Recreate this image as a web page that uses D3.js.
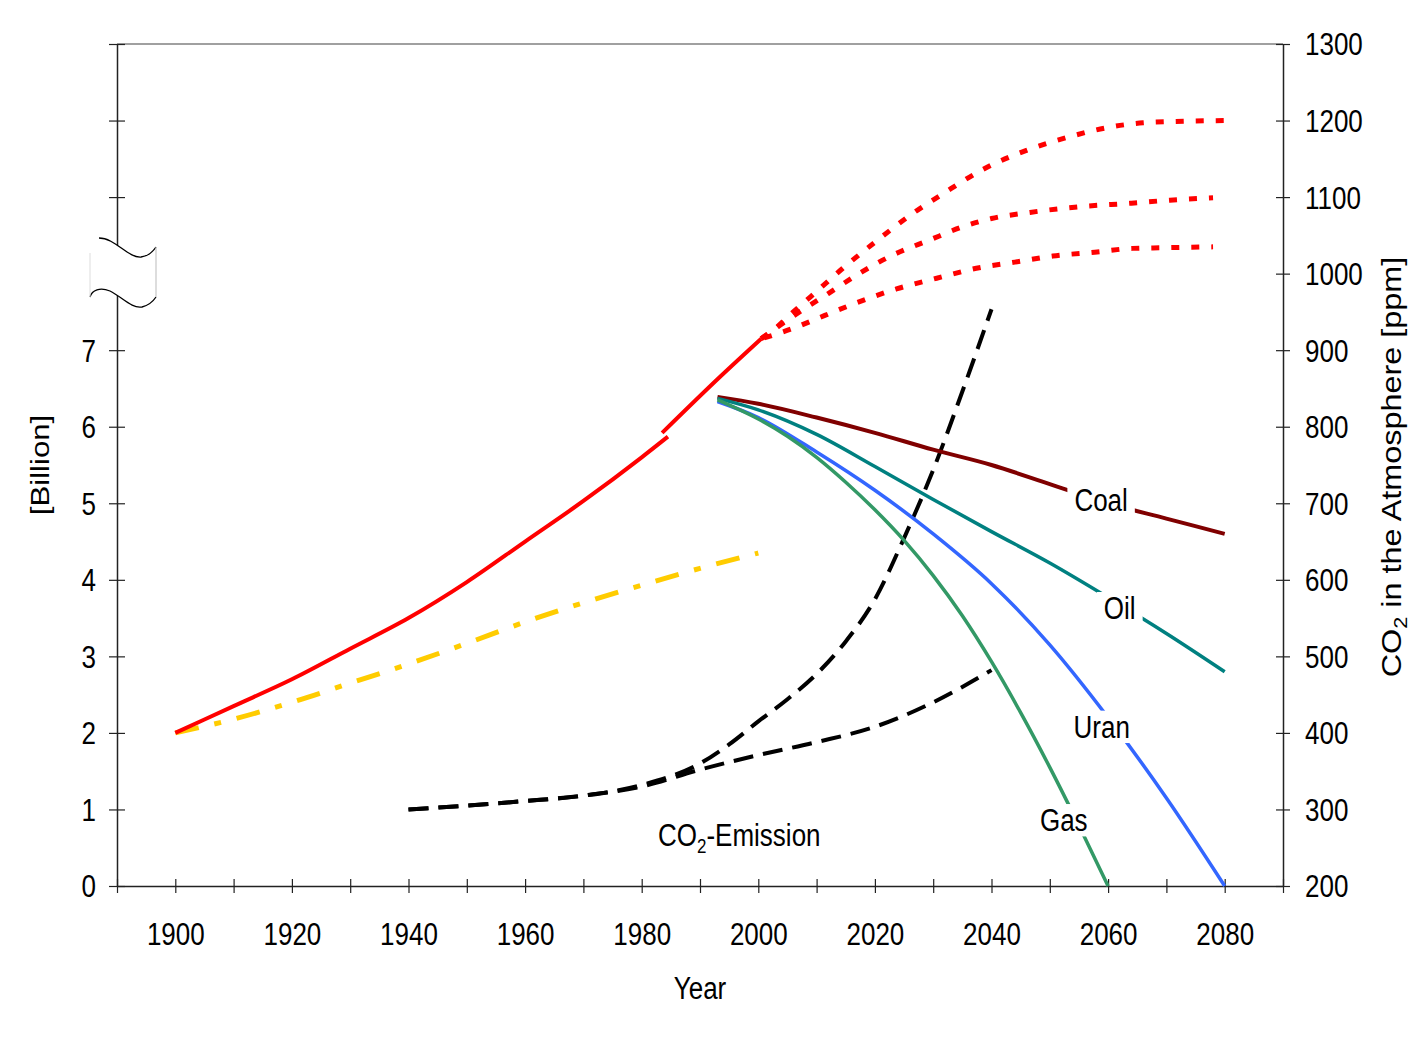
<!DOCTYPE html>
<html>
<head>
<meta charset="utf-8">
<script src="https://cdn.jsdelivr.net/npm/d3@7"></script>
<style>
  body { margin: 0; background: #fff; }
  svg { display: block; font-family: "Liberation Sans", Arial, sans-serif; }
</style>
</head>
<body>
<div id="chart"></div>
<script>
// --- data ---
// world population [Billion], solid red (two pieces, the second slightly offset)
const popPart1 = [[1900,2.0],[1910,2.35],[1920,2.7],[1930,3.1],[1940,3.5],[1950,3.97],[1960,4.5],[1970,5.03],[1980,5.6],[1984.5,5.87]];
const popPart2 = [[1983.5,5.92],[1993.4,6.65],[2000.5,7.15]];
// dash-dot yellow line [Billion]
const yellowLine = [[1900,2.0],[1910,2.18],[1920,2.4],[1930,2.65],[1940,2.9],[1950,3.17],[1960,3.45],[1970,3.7],[1980,3.93],[1990,4.15],[2000,4.35]];
// CO2 in the atmosphere [ppm], three dotted scenarios
const co2High = [[2000.5,915],[2003,929],[2006,950],[2009,970],[2014.5,1007],[2020,1041],[2026,1076],[2032,1106],[2039,1138],[2046,1161],[2053,1178],[2060,1191],[2066,1197],[2073,1199],[2080,1200]];
const co2Mid = [[2000.5,915],[2005.7,943],[2012,974],[2017.7,1002],[2023,1024],[2029.4,1044],[2035,1061],[2040,1072],[2046.6,1080],[2056,1088],[2064,1092],[2070.6,1096],[2078,1099]];
const co2Low = [[2001,916],[2006.8,931],[2010,941],[2016.9,962],[2023.7,980],[2030.6,994],[2037.4,1007],[2044,1015],[2050.5,1023],[2057.7,1028],[2064.2,1033],[2070.9,1034],[2078,1035]];
// CO2 emission, two dashed projections [Billion]
const emissionLow = [[1940,1.0],[1950,1.05],[1960,1.11],[1970,1.18],[1980,1.3],[1990,1.52],[2000,1.71],[2010,1.88],[2020,2.08],[2030,2.4],[2040,2.82]];
const emissionHigh = [[1940,1.0],[1950,1.05],[1960,1.11],[1970,1.18],[1980,1.32],[1990,1.6],[1995,1.85],[2000,2.15],[2005,2.44],[2010,2.77],[2015,3.195],[2020,3.745],[2025,4.545],[2030,5.435],[2035,6.46],[2040,7.535]];
// resources [Billion]
const coal = [[1993,6.39],[2000,6.3],[2010,6.12],[2020,5.92],[2030,5.7],[2040,5.5],[2050,5.25],[2060,5.0],[2070,4.8],[2080,4.6]];
const oil = [[1993,6.37],[2000,6.22],[2010,5.9],[2020,5.48],[2030,5.05],[2040,4.63],[2050,4.22],[2060,3.77],[2070,3.3],[2080,2.8]];
const uran = [[1993,6.33],[2000,6.12],[2010,5.67],[2020,5.17],[2030,4.6],[2040,3.95],[2050,3.15],[2060,2.2],[2070,1.15],[2080,0.0]];
const gas = [[1993,6.35],[2000,6.1],[2005,5.875],[2010,5.6],[2015,5.275],[2020,4.915],[2025,4.515],[2030,4.055],[2035,3.53],[2040,2.93],[2045,2.265],[2050,1.55],[2055,0.79],[2060,0.0]];

// tick values
const yearTicks = d3.range(1890, 2091, 10);
const yearLabels = d3.range(1900, 2081, 20);
const billionTicks = [0,1,2,3,4,5,6,7,9,10,11];
const billionLabels = [0,1,2,3,4,5,6,7];
const ppmTicks = d3.range(200, 1301, 100);

// label positions: [text, year, billion]
const curveLabels = [["Coal",2058.8,5.04],["Oil",2062,3.63],["Uran",2058.9,2.08],["Gas",2052.4,0.86]];

// --- drawing ---
const W = 1416, H = 1046;
const margin = { top: 44, right: 133, bottom: 160, left: 117 };
const FS = 26, SY = 1.2;   // text is stretched vertically in the original

const svg = d3.select("#chart").append("svg")
  .attr("width", W).attr("height", H);

const x = d3.scaleLinear().domain([1890, 2090]).range([margin.left, W - margin.right]);
const yL = d3.scaleLinear().domain([0, 11]).range([H - margin.bottom, margin.top]);
const yR = d3.scaleLinear().domain([200, 1300]).range([H - margin.bottom, margin.top]);

// top border
svg.append("line")
  .attr("x1", x(1890)).attr("x2", x(2090))
  .attr("y1", yL(11)).attr("y2", yL(11))
  .attr("stroke", "#808080").attr("stroke-width", 1.5);

function styleAxis(g) {
  g.select(".domain").attr("stroke", "#222").attr("stroke-width", 1.5);
  g.selectAll(".tick line").attr("stroke", "#222").attr("stroke-width", 1.2);
  g.selectAll(".tick text")
    .attr("fill", "#000")
    .style("font-size", FS + "px")
    .attr("font-family", "Liberation Sans, Arial, sans-serif");
}

// bottom axis
const xAxis = svg.append("g")
  .attr("transform", `translate(0,${yL(0)})`)
  .call(d3.axisBottom(x).tickValues(yearTicks).tickSize(7).tickSizeOuter(0)
    .tickFormat(d => yearLabels.includes(d) ? d : ""));
styleAxis(xAxis);
xAxis.selectAll(".tick line").attr("y1", -7);
xAxis.selectAll(".tick text")
  .attr("transform", `scale(1,${SY})`)
  .attr("y", 40).attr("dy", "0.35em");

// left axis
const leftAxis = svg.append("g")
  .attr("transform", `translate(${x(1890)},0)`)
  .call(d3.axisLeft(yL).tickValues(billionTicks).tickSize(8).tickSizeOuter(0)
    .tickFormat(d => billionLabels.includes(d) ? d : ""));
styleAxis(leftAxis);
leftAxis.selectAll(".tick line").attr("x1", 8);
leftAxis.selectAll(".tick text")
  .attr("x", -21).attr("dy", "0.35em")
  .attr("transform", `scale(1,${SY})`)
  .attr("y", 0);

// right axis
const rightAxis = svg.append("g")
  .attr("transform", `translate(${x(2090)},0)`)
  .call(d3.axisRight(yR).tickValues(ppmTicks).tickSize(7).tickSizeOuter(0)
    .tickFormat(d3.format("d")));
styleAxis(rightAxis);
rightAxis.selectAll(".tick line").attr("x1", -7);
rightAxis.selectAll(".tick text")
  .attr("x", 22).attr("dy", "0.35em")
  .attr("transform", `scale(1,${SY})`);

// axis break on the left axis
const ax = x(1890);
const brk = svg.append("g");
brk.append("path")
  .attr("d", `M${ax-18},238 C${ax-2},238 ${ax+11},258 ${ax+24},257 C${ax+33},256 ${ax+37},250 ${ax+39},247
              L${ax+39},297 C${ax+37},300 ${ax+33},305 ${ax+25},307 C${ax+15},309 ${ax+5},297 ${ax-7},291
              C${ax-17},287 ${ax-25},290 ${ax-27},297 L${ax-27},253 Z`)
  .attr("fill", "#fff").attr("stroke", "none");
brk.append("path")
  .attr("d", `M${ax-18},238 C${ax-2},238 ${ax+11},258 ${ax+24},257 C${ax+33},256 ${ax+37},250 ${ax+39},247`)
  .attr("fill", "none").attr("stroke", "#000").attr("stroke-width", 1.3);
brk.append("path")
  .attr("d", `M${ax-27},297 C${ax-25},290 ${ax-17},287 ${ax-7},291 C${ax+5},297 ${ax+15},309 ${ax+25},307 C${ax+33},305 ${ax+37},300 ${ax+39},297`)
  .attr("fill", "none").attr("stroke", "#000").attr("stroke-width", 1.3);
brk.append("line")
  .attr("x1", ax+39).attr("x2", ax+39).attr("y1", 247).attr("y2", 297)
  .attr("stroke", "#bbb").attr("stroke-width", 1);
brk.append("line")
  .attr("x1", ax-27).attr("x2", ax-27).attr("y1", 253).attr("y2", 297)
  .attr("stroke", "#ddd").attr("stroke-width", 1);

// lines
const lineL = d3.line().x(d => x(d[0])).y(d => yL(d[1])).curve(d3.curveMonotoneX);
const lineR = d3.line().x(d => x(d[0])).y(d => yR(d[1])).curve(d3.curveMonotoneX);

const series = [
  { data: yellowLine, gen: lineL, color: "#FFCC00", width: 5, dash: "24,16,7,16" },
  { data: emissionLow, gen: lineL, color: "#000", width: 4, dash: "20,10" },
  { data: emissionHigh, gen: lineL, color: "#000", width: 4, dash: "20,10" },
  { data: coal, gen: lineL, color: "#800000", width: 4 },
  { data: oil, gen: lineL, color: "#008080", width: 3.5 },
  { data: uran, gen: lineL, color: "#3366FF", width: 3.5 },
  { data: gas, gen: lineL, color: "#339966", width: 3.5 },
  { data: popPart1, gen: lineL, color: "#FF0000", width: 4 },
  { data: popPart2, gen: lineL, color: "#FF0000", width: 4 },
  { data: co2High, gen: lineR, color: "#FF0000", width: 5, dash: "8,12" },
  { data: co2Mid, gen: lineR, color: "#FF0000", width: 5, dash: "8,12" },
  { data: co2Low, gen: lineR, color: "#FF0000", width: 5, dash: "8,12" }
];

svg.append("g").selectAll("path")
  .data(series)
  .enter().append("path")
  .attr("d", d => d.gen(d.data))
  .attr("fill", "none")
  .attr("stroke", d => d.color)
  .attr("stroke-width", d => d.width)
  .attr("stroke-dasharray", d => d.dash || null);

// curve labels with white boxes that interrupt the lines
const labelG = svg.append("g").selectAll("g")
  .data(curveLabels)
  .enter().append("g")
  .attr("transform", d => `translate(${x(d[1])},${yL(d[2])}) scale(1,${SY})`);
labelG.append("rect").attr("fill", "#fff");
labelG.append("text")
  .attr("text-anchor", "middle")
  .attr("dy", "0.35em")
  .style("font-size", FS + "px")
  .text(d => d[0]);
labelG.each(function() {
  const g = d3.select(this);
  const b = g.select("text").node().getBBox();
  g.select("rect")
    .attr("x", b.x - 7).attr("y", b.y + 1)
    .attr("width", b.width + 14).attr("height", b.height - 2);
});

// CO2-Emission label
const emLabel = svg.append("g")
  .attr("transform", `translate(${x(1982.8)},${yL(0.67)}) scale(1,${SY})`)
  .append("text")
  .attr("dy", "0.35em")
  .style("font-size", FS + "px");
emLabel.append("tspan").text("CO");
emLabel.append("tspan").attr("dy", 6).style("font-size", "17px").text("2");
emLabel.append("tspan").attr("dy", -6).text("-Emission");

// axis titles
svg.append("g")
  .attr("transform", `translate(${(x(1890) + x(2090)) / 2},988) scale(1,${SY})`)
  .append("text")
  .attr("text-anchor", "middle").attr("dy", "0.35em")
  .style("font-size", FS + "px")
  .text("Year");

svg.append("g")
  .attr("transform", `translate(49,465) scale(1,${SY}) rotate(-90)`)
  .append("text")
  .attr("text-anchor", "middle")
  .style("font-size", FS + "px")
  .text("[Billion]");

const rTitle = svg.append("g")
  .attr("transform", `translate(1401,467) scale(1,${SY}) rotate(-90)`)
  .append("text")
  .attr("text-anchor", "middle")
  .style("font-size", "27px");
rTitle.append("tspan").text("CO");
rTitle.append("tspan").attr("dy", 6).style("font-size", "18px").text("2");
rTitle.append("tspan").attr("dy", -6).text(" in the Atmosphere [ppm]");
</script>
</body>
</html>
